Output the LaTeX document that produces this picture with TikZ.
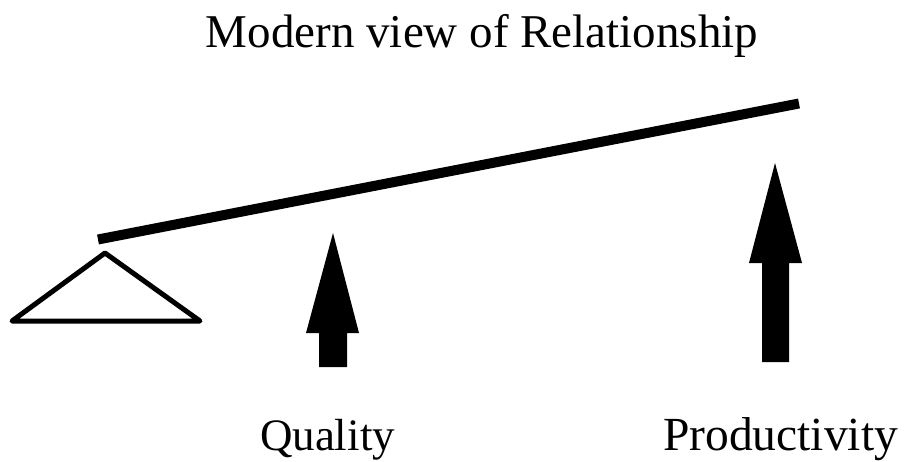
\documentclass[tikz,border=0pt]{standalone}
\usepackage{fontspec}
\setmainfont{Liberation Serif}
\begin{document}
\begin{tikzpicture}[x=1pt,y=-1pt,
  lbl/.style={anchor=base,inner sep=0pt,text=black},
  blockarrow/.style={fill=black,draw=none},
  lever/.style={line width=10pt,black},
  fulcrum/.style={line width=5pt,line join=round,black}]
\useasboundingbox[fill=white] (0,0) rectangle (904,462);
% title and labels
\node[lbl,font=\fontsize{47}{56}\selectfont] (title) at (482,48) {Modern view of Relationship};
\node[lbl,font=\fontsize{45}{54}\selectfont] (quality) at (327.5,450) {Quality};
\node[lbl,font=\fontsize{47.5}{57}\selectfont] (productivity) at (780.5,450) {Productivity};
% lever
\coordinate (levL) at (98,239.5);
\coordinate (levR) at (799,103.5);
\draw[lever] (levL) -- (levR);
% fulcrum
\coordinate (fA) at (105,253);
\coordinate (fL) at (12,321);
\coordinate (fR) at (200,321);
\draw[fulcrum] (fA) -- (fL) -- (fR) -- cycle;
% quality arrow
\fill[blockarrow] (333,233) -- (359,333) -- (347,333) -- (347,367) -- (319,367) -- (319,333) -- (306,333) -- cycle;
% productivity arrow
\fill[blockarrow] (775,163) -- (802,263) -- (789,263) -- (789,362) -- (762,362) -- (762,263) -- (749,263) -- cycle;
\end{tikzpicture}
\end{document}
